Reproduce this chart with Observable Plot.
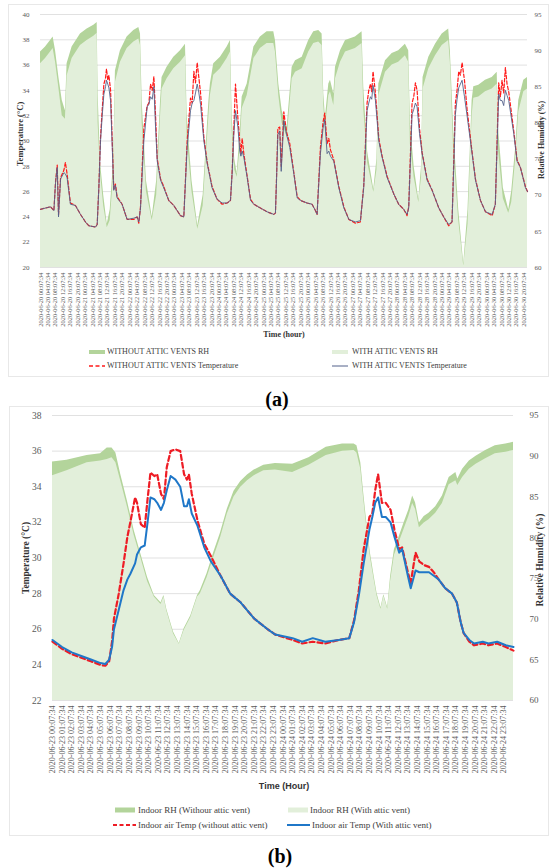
<!DOCTYPE html>
<html><head><meta charset="utf-8">
<script src="https://cdn.jsdelivr.net/npm/d3@7"></script>
<script src="https://cdn.jsdelivr.net/npm/@observablehq/plot@0.6"></script>
<style>
html,body{margin:0;padding:0;background:#fff;}
body{width:550px;height:868px;position:relative;overflow:hidden;font-family:"Liberation Serif","Times New Roman",serif;}
.box{position:absolute;border:1px solid #e8e8e8;box-sizing:border-box;}
</style></head><body>
<div class="box" style="left:8px;top:4px;width:541px;height:373px"></div>
<div class="box" style="left:9px;top:406px;width:540px;height:430px"></div>
<script>
// ---------------- DATA : panel (a), hours since 2020-06-20 00:07:34 ----------------
// [hour, temperature WITHOUT attic vents, temperature WITH attic vents]
const tempA = [
[0,24.6,24.6],[2.7,24.7,24.7],[5.4,24.8,24.8],[7.2,24.5,24.5],[8.1,26.8,26.7],[9.0,28.1,27.9],[9.7,24.2,24.0],[10.8,27.1,27.0],[12.6,27.7,27.5],[13.4,28.3,27.4],[14.3,27.4,27.1],[16.1,25.1,25.0],[18.8,24.9,24.9],[21.5,24.2,24.2],[24.2,23.6,23.6],[26.0,23.3,23.3],[29.6,23.2,23.2],[30.5,23.4,23.4],[31.4,26.4,26.3],[32.3,30.3,30.0],[33.2,32.5,32.0],[34.1,34.5,33.7],[35.0,35.0,34.3],[35.5,35.7,34.8],[36.2,34.8,34.5],[36.8,35.2,34.2],[37.7,34.0,33.2],[38.6,30.0,29.5],[39.4,26.2,26.1],[40.3,26.6,26.5],[41.2,25.6,25.5],[43.9,25.0,25.0],[46.6,23.8,23.8],[50.2,23.8,23.9],[52.0,24.0,24.0],[52.9,23.5,23.6],[53.8,24.8,24.7],[55.6,31.0,30.0],[57.4,32.8,32.7],[58.3,33.0,32.9],[59.2,34.5,33.5],[60.1,34.0,33.3],[61.0,35.1,34.3],[61.9,32.0,31.1],[62.8,28.6,28.4],[64.6,27.0,26.9],[66.3,26.4,26.3],[69.0,25.3,25.3],[71.7,24.9,24.9],[75.3,24.1,24.1],[77.1,24.0,24.0],[78.9,30.0,29.5],[80.7,33.4,32.4],[81.6,33.0,33.0],[82.5,35.5,33.2],[83.4,34.6,33.8],[84.3,36.2,34.5],[85.2,35.0,33.8],[86.1,33.8,32.9],[87.9,30.3,30.0],[89.7,28.3,28.2],[92.3,26.4,26.3],[95.0,25.4,25.4],[97.7,25.0,25.1],[100.4,25.1,25.1],[102.2,25.3,25.3],[103.1,27.6,27.4],[104.0,31.0,30.5],[104.9,34.5,32.4],[106.2,31.8,31.1],[107.2,30.0,29.2],[107.8,29.0,28.8],[108.5,30.2,29.2],[109.4,29.0,28.7],[111.2,27.2,27.1],[113.0,25.4,25.3],[114.8,25.0,25.0],[118.3,24.7,24.7],[121.9,24.4,24.4],[125.5,24.2,24.2],[126.4,24.3,24.3],[127.0,27.2,27.0],[127.7,31.0,30.5],[128.7,31.1,30.8],[129.5,28.0,27.6],[130.9,32.3,31.6],[132.4,30.7,30.5],[134.1,29.8,29.5],[136.3,27.5,27.4],[138.1,25.6,25.5],[139.9,25.3,25.3],[143.4,25.1,25.1],[146.1,25.0,25.0],[147.9,24.5,24.5],[148.8,24.2,24.2],[150.6,29.5,29.0],[152.0,31.5,31.0],[152.9,32.2,31.7],[154.2,29.8,29.0],[155.1,30.2,29.2],[156.0,29.3,28.8],[157.8,28.5,28.4],[160.5,26.4,26.3],[163.2,24.8,24.7],[165.9,23.8,23.8],[169.4,23.5,23.6],[172.1,23.6,23.7],[173.9,26.5,26.3],[175.7,33.0,32.4],[176.6,34.0,33.0],[177.5,34.5,33.5],[178.2,33.9,33.3],[178.9,35.5,34.4],[180.2,33.8,33.2],[182.0,30.2,30.0],[183.8,28.8,28.7],[186.5,27.2,27.1],[190.1,25.8,25.8],[192.7,25.0,25.0],[195.4,24.6,24.6],[197.2,24.1,24.2],[198.1,24.8,24.7],[199.9,33.0,32.1],[200.8,33.5,32.5],[201.7,34.6,33.0],[202.6,34.0,32.7],[203.9,31.0,30.6],[205.3,29.1,29.0],[208.0,27.0,26.9],[210.7,26.1,26.1],[214.3,24.7,24.7],[216.9,24.0,24.0],[219.6,23.3,23.4],[221.4,23.6,23.6],[223.2,33.0,32.1],[224.1,34.0,33.3],[225.0,35.5,34.2],[225.9,35.2,34.5],[226.8,36.2,34.8],[228.1,34.8,33.5],[229.5,32.5,32.0],[232.2,29.1,29.0],[234.0,27.0,26.9],[236.7,25.3,25.3],[239.4,24.4,24.4],[243.0,24.1,24.2],[244.7,25.0,25.0],[246.5,34.6,33.7],[247.4,33.5,33.2],[248.3,34.8,33.2],[249.2,33.8,32.8],[250.1,35.8,34.0],[251.0,34.5,33.6],[251.9,33.9,33.2],[254.6,30.8,30.6],[256.4,28.5,28.4],[258.2,27.9,27.9],[260.9,26.4,26.3],[262.0,26.0,26.0]
];
// [hour, RH WITHOUT attic vents, RH WITH attic vents]
const rhA = [
[0,89.8,88.2],[2.7,90.5,88.9],[5.4,91.4,89.8],[6.8,91.9,90.3],[8.1,90.0,88.4],[9.9,86.3,84.8],[11.7,83.1,81.0],[13.4,81.7,80.5],[14.3,88.2,86.5],[17.0,90.5,88.9],[21.5,92.3,90.7],[25.1,93.0,91.4],[28.7,93.5,92.0],[30.5,93.9,92.4],[31.0,84.0,80.0],[32.3,74.5,73.0],[34.0,70.0,68.5],[35.9,66.0,65.5],[37.5,68.0,66.5],[39.4,75.0,73.0],[40.3,87.2,85.6],[43.0,90.0,88.4],[46.6,91.9,90.3],[50.2,92.8,91.2],[52.9,93.2,91.6],[53.8,92.3,90.7],[54.7,83.0,80.0],[57.0,72.0,70.5],[60.1,67.0,66.5],[62.5,72.0,70.0],[64.6,83.1,81.0],[65.4,86.3,84.7],[68.1,87.7,86.1],[71.7,89.1,87.5],[75.3,90.0,88.4],[78.0,90.9,89.3],[78.9,81.0,78.0],[81.5,72.0,70.5],[84.6,65.8,65.3],[87.5,70.0,68.5],[90.6,83.0,81.0],[91.4,85.4,83.8],[93.2,88.2,86.6],[96.8,89.1,87.5],[100.4,90.5,88.9],[102.2,91.4,89.8],[103.1,81.0,79.0],[104.5,75.0,73.5],[105.8,73.0,72.5],[107.2,78.0,76.0],[108.5,83.6,82.0],[111.2,85.4,83.8],[114.8,90.5,88.9],[118.3,91.9,90.3],[121.9,92.6,91.0],[125.5,92.6,91.0],[126.4,91.4,89.8],[128.2,85.4,83.8],[130.0,81.7,80.0],[132.7,79.4,78.0],[135.4,87.7,86.1],[137.2,88.6,87.0],[140.8,89.1,87.5],[144.3,91.4,89.8],[147.0,92.6,91.0],[149.7,92.8,91.2],[151.5,92.3,90.7],[152.4,84.0,82.4],[153.3,80.8,79.2],[155.1,85.4,83.8],[156.0,85.9,84.3],[157.8,84.0,82.4],[158.7,87.7,86.1],[161.4,90.0,88.4],[164.1,91.4,89.8],[169.4,91.9,90.3],[173.0,92.6,91.0],[173.9,85.0,82.0],[176.0,76.0,74.5],[179.3,70.8,70.4],[181.0,75.0,73.5],[182.0,85.4,83.8],[185.6,88.6,87.0],[189.2,89.6,88.0],[192.7,90.0,88.4],[196.3,90.9,89.3],[198.1,90.0,88.4],[199.0,80.0,77.0],[201.0,74.0,72.5],[203.5,69.4,69.0],[205.0,74.0,72.5],[205.8,86.3,84.7],[208.9,89.1,87.5],[212.5,90.9,89.3],[216.1,92.3,90.7],[219.6,93.0,91.4],[220.5,90.0,88.4],[222.3,79.0,76.0],[225.0,68.0,66.5],[227.7,60.5,60.2],[230.0,68.0,66.0],[232.2,83.1,81.0],[233.1,85.0,83.4],[235.8,85.2,83.6],[239.4,85.9,84.3],[243.0,86.3,84.7],[245.7,87.0,85.4],[246.5,79.0,76.0],[249.0,71.0,69.5],[251.9,68.0,67.5],[253.5,70.5,69.0],[255.5,76.2,74.6],[257.3,83.1,81.5],[260.0,85.9,84.3],[262.0,86.3,84.7]
];
// ---------------- DATA : panel (b), hours since 2020-06-23 00:07:34 ----------------
const tempB = [
[0,25.3,25.4],[1.0,24.9,25.0],[2.0,24.6,24.7],[3.0,24.4,24.5],[4.0,24.2,24.3],[5.0,24.0,24.1],[5.5,23.95,24.05],[5.9,24.2,24.3],[6.2,25.3,25.0],[6.4,26.6,26.0],[6.9,28.0,27.1],[7.4,29.7,28.2],[7.8,31.2,28.8],[8.1,32.0,29.1],[8.6,33.4,29.7],[8.8,33.1,30.2],[9.2,31.9,30.6],[9.6,31.7,30.7],[9.9,33.3,32.0],[10.2,34.8,33.4],[10.6,34.6,33.3],[10.9,34.7,33.1],[11.3,33.6,32.7],[11.6,33.3,33.1],[11.9,35.1,33.8],[12.3,36.0,34.6],[12.8,36.1,34.4],[13.3,36.0,34.0],[13.7,34.7,32.9],[14.0,34.4,32.9],[14.2,34.7,33.3],[14.5,33.6,32.5],[15.1,32.1,31.8],[15.8,30.8,30.6],[16.5,30.1,29.8],[17.5,29.0,29.0],[18.5,28.0,28.0],[19.6,27.5,27.5],[21.0,26.6,26.6],[22.4,26.0,26.0],[23.2,25.7,25.7],[25.0,25.4,25.5],[26.0,25.2,25.3],[27.1,25.3,25.5],[28.4,25.2,25.3],[29.8,25.4,25.4],[30.9,25.5,25.5],[31.4,26.5,26.4],[31.9,28.2,27.9],[32.4,30.5,29.7],[33.0,32.3,31.6],[33.3,32.5,32.3],[33.6,33.8,33.1],[33.9,34.7,33.4],[34.3,33.1,32.3],[34.7,33.1,32.3],[35.2,32.7,32.0],[35.6,31.6,31.2],[36.1,30.5,30.3],[36.4,30.6,30.5],[37.0,29.2,29.0],[37.3,28.6,28.3],[37.8,30.3,29.3],[38.2,29.8,29.2],[38.7,29.6,29.2],[39.2,29.5,29.2],[39.7,29.2,29.0],[40.2,28.8,28.8],[40.9,28.3,28.3],[41.6,28.0,28.0],[42.1,27.5,27.5],[42.5,26.4,26.4],[42.8,25.8,25.8],[43.4,25.3,25.4],[43.9,25.1,25.2],[44.8,25.2,25.3],[45.4,25.1,25.2],[46.3,25.2,25.3],[47.2,25.0,25.1],[48.0,24.8,25.0]
];
const rhB = [
[0,89.3,87.6],[1.5,89.5,88.2],[3.6,90.1,89.2],[5.0,90.3,89.4],[5.7,91.0,89.6],[6.2,91.0,89.8],[6.6,90.4,89.2],[7.1,87.8,87.0],[7.8,84.5,83.8],[8.5,80.9,80.3],[9.2,78.0,77.5],[9.9,75.1,74.6],[10.6,72.9,72.7],[11.3,72.0,71.8],[11.6,72.9,72.7],[11.9,71.2,71.0],[12.6,68.4,68.2],[13.2,67.0,66.9],[13.7,68.8,68.6],[14.4,70.4,70.2],[15.1,72.9,72.7],[15.4,73.5,73.1],[16.1,75.6,75.1],[16.8,78.2,77.6],[17.5,80.6,80.0],[18.2,83.5,82.9],[18.9,85.7,85.0],[19.6,86.9,86.2],[20.3,87.7,87.0],[21.0,88.3,87.6],[22.0,88.9,88.2],[23.2,89.1,88.3],[25.0,89.0,88.0],[26.7,89.8,88.9],[28.5,91.1,90.1],[30.2,91.5,90.6],[31.4,91.5,90.7],[31.7,91.3,90.4],[32.1,89.2,88.4],[32.4,85.5,84.8],[32.8,81.0,80.4],[33.1,78.1,77.6],[33.5,75.2,74.8],[33.8,73.1,72.8],[34.2,71.4,71.2],[34.5,73.0,72.8],[34.9,71.4,71.2],[35.2,75.2,74.6],[35.6,78.5,77.8],[36.1,80.1,79.4],[36.6,81.8,81.0],[37.1,83.4,82.6],[37.5,85.1,84.2],[37.8,84.3,83.5],[38.2,81.8,81.2],[38.7,82.6,81.8],[39.2,83.0,82.2],[39.9,83.8,83.0],[40.6,85.1,84.2],[41.3,87.4,86.5],[42.0,88.0,87.0],[42.2,87.2,86.4],[42.7,88.4,87.4],[43.4,89.4,88.4],[44.1,90.0,89.0],[45.1,90.7,89.7],[46.1,91.3,90.3],[47.2,91.5,90.5],[48.0,91.7,90.7]
];
// ---------------- TICKS ----------------
const tempTicksA = [20,22,24,26,28,30,32,34,36,38,40];
const rhTicksA = [60,65,70,75,80,85,90,95];
const tempTicksB = [22,24,26,28,30,32,34,36,38];
const rhTicksB = [60,65,70,75,80,85,90,95];
const startA = Date.UTC(2020,5,20,0,7,34);
const startB = Date.UTC(2020,5,23,0,7,34);
const xTicksA = d3.range(0, 261, 4);
const xTicksB = d3.range(0, 48, 1);
const fmt = d3.utcFormat("%Y-%m-%d %H:%M:%S");

const DARK = "#b3d49b", LIGHT = "#e2efda";

// ---------------- PANEL (a) ----------------
const toTA = rh => 20 + (rh - 60) * 20 / 35;
const chartA = Plot.plot({
  width: 550, height: 335,
  marginLeft: 40, marginRight: 23, marginTop: 14, marginBottom: 68,
  x: {domain: [0, 262]},
  y: {domain: [20, 40]},
  style: {fontFamily: "'Liberation Serif', serif", fontSize: "7px", color: "#595959", background: "transparent", overflow: "visible"},
  marks: [
    Plot.gridY(tempTicksA, {stroke: "#d9d9d9", strokeOpacity: 1, strokeWidth: 0.8}),
    Plot.areaY(rhA, {x: d => d[0], y1: 20, y2: d => toTA(d[1]), fill: DARK}),
    Plot.areaY(rhA, {x: d => d[0], y1: 20, y2: d => toTA(d[2]), fill: LIGHT}),
    Plot.line(tempA, {x: d => d[0], y: d => d[1], stroke: "#ff1a1a", strokeWidth: 1.2, strokeDasharray: "3.5,2"}),
    Plot.line(tempA, {x: d => d[0], y: d => d[2], stroke: "#52618a", strokeWidth: 0.9}),
    Plot.axisY(tempTicksA, {anchor: "left", tickSize: 0, tickPadding: 11, label: null, fontSize: 7}),
    Plot.axisY(rhTicksA.map(toTA), {anchor: "right", tickSize: 0, tickPadding: 7, label: null, fontSize: 7,
      tickFormat: t => String(Math.round(60 + (t - 20) * 35 / 20))}),
    Plot.axisX(xTicksA, {anchor: "bottom", tickSize: 0, tickPadding: 5, tickRotate: -90, label: null, fontSize: 6.4,
      tickFormat: h => fmt(new Date(startA + h * 36e5))})
  ]
});
chartA.style.position = "absolute"; chartA.style.left = "0px"; chartA.style.top = "0px";
document.body.appendChild(chartA);

// ---------------- PANEL (b) ----------------
const toTB = rh => 22 + (rh - 60) * 16 / 35;
const chartB = Plot.plot({
  width: 550, height: 390,
  marginLeft: 52, marginRight: 37, marginTop: 15, marginBottom: 90,
  x: {domain: [0, 48]},
  y: {domain: [22, 38]},
  style: {fontFamily: "'Liberation Serif', serif", fontSize: "9px", color: "#595959", background: "transparent", overflow: "visible"},
  marks: [
    Plot.gridY(tempTicksB, {stroke: "#d9d9d9", strokeOpacity: 1, strokeWidth: 0.8}),
    Plot.areaY(rhB, {x: d => d[0], y1: 22, y2: d => toTB(d[1]), fill: DARK}),
    Plot.areaY(rhB, {x: d => d[0], y1: 22, y2: d => toTB(d[2]), fill: LIGHT}),
    Plot.line(tempB, {x: d => d[0], y: d => d[1], stroke: "#ee1c25", strokeWidth: 2.2, strokeDasharray: "5,3"}),
    Plot.line(tempB, {x: d => d[0], y: d => d[2], stroke: "#1f77c8", strokeWidth: 2}),
    Plot.axisY(tempTicksB, {anchor: "left", tickSize: 0, tickPadding: 11, label: null, fontSize: 9.5}),
    Plot.axisY(rhTicksB.map(toTB), {anchor: "right", tickSize: 0, tickPadding: 16, label: null, fontSize: 9,
      tickFormat: t => String(Math.round(60 + (t - 22) * 35 / 16))}),
    Plot.axisX(xTicksB, {anchor: "bottom", tickSize: 0, tickPadding: 5, tickRotate: -90, label: null, fontSize: 8,
      tickFormat: h => fmt(new Date(startB + h * 36e5))})
  ]
});
chartB.style.position = "absolute"; chartB.style.left = "0px"; chartB.style.top = "400px";
document.body.appendChild(chartB);

// ---------------- TEXT / LEGENDS ----------------
function txt(s, x, y, css, anchor = "middle", rot = 0) {
  const d = document.createElement("div");
  d.textContent = s;
  d.style.cssText = `position:absolute;left:${x}px;top:${y}px;white-space:nowrap;line-height:1;${css}`;
  const tx = anchor === "middle" ? "-50%" : anchor === "end" ? "-100%" : "0";
  d.style.transform = `translate(${tx},-50%)` + (rot ? ` rotate(${rot}deg)` : "");
  document.body.appendChild(d);
}
function swatch(x1, x2, y, kind, color, w) {
  const ns = "http://www.w3.org/2000/svg";
  const s = document.createElementNS(ns, "svg");
  s.setAttribute("width", x2 - x1); s.setAttribute("height", 8);
  s.style.cssText = `position:absolute;left:${x1}px;top:${y - 4}px;`;
  const l = document.createElementNS(ns, "line");
  l.setAttribute("x1", 0); l.setAttribute("x2", x2 - x1); l.setAttribute("y1", 4); l.setAttribute("y2", 4);
  l.setAttribute("stroke", color); l.setAttribute("stroke-width", w);
  if (kind === "dash") l.setAttribute("stroke-dasharray", "4,2.5");
  s.appendChild(l);
  document.body.appendChild(s);
}
const serif = "font-family:'Liberation Serif',serif;";
// panel (a)
txt("Temperature (°C)", 20, 134, serif + "font-size:8.5px;font-weight:bold;color:#333;", "middle", -90);
txt("Relative Humidity (%)", 542, 140, serif + "font-size:8px;font-weight:bold;color:#333;", "middle", -90);
txt("Time (hour)", 284, 335, serif + "font-size:8px;font-weight:bold;color:#333;");
swatch(89, 105, 352, "solid", DARK, 4);
txt("WITHOUT ATTIC VENTS RH", 107, 352, serif + "font-size:8px;color:#404040;", "start");
swatch(332, 348, 352, "solid", LIGHT, 4);
txt("WITH ATTIC VENTS RH", 352, 352, serif + "font-size:8px;color:#404040;", "start");
swatch(89, 105, 366, "dash", "#ff1a1a", 1.3);
txt("WITHOUT ATTIC VENTS Temperature", 107, 366, serif + "font-size:8px;color:#404040;", "start");
swatch(332, 348, 366, "solid", "#52618a", 1);
txt("WITH ATTIC VENTS Temperature", 352, 366, serif + "font-size:8px;color:#404040;", "start");
txt("(a)", 277, 399, serif + "font-size:20px;font-weight:bold;color:#000;");
// panel (b)
txt("Temperature (°C)", 27, 558, serif + "font-size:9.5px;font-weight:bold;color:#333;", "middle", -90);
txt("Relative Humidity (%)", 541, 560, serif + "font-size:9.5px;font-weight:bold;color:#333;", "middle", -90);
txt("Time (Hour)", 284, 786, "font-family:'Liberation Sans',Arial,sans-serif;font-size:9px;font-weight:bold;color:#333;");
swatch(115, 135, 810, "solid", DARK, 5);
txt("Indoor RH (Withour attic vent)", 138, 810, serif + "font-size:9px;color:#404040;", "start");
swatch(288, 308, 810, "solid", LIGHT, 5);
txt("Indoor RH (With attic vent)", 310, 810, serif + "font-size:9px;color:#404040;", "start");
swatch(113, 136, 825, "dash", "#ee1c25", 2.2);
txt("Indoor air Temp (without attic vent)", 138, 825, serif + "font-size:9px;color:#404040;", "start");
swatch(287, 310, 825, "solid", "#1f77c8", 2);
txt("Indoor air Temp (With attic vent)", 312, 825, serif + "font-size:9px;color:#404040;", "start");
txt("(b)", 280, 856, serif + "font-size:20px;font-weight:bold;color:#000;");
</script>
</body></html>
